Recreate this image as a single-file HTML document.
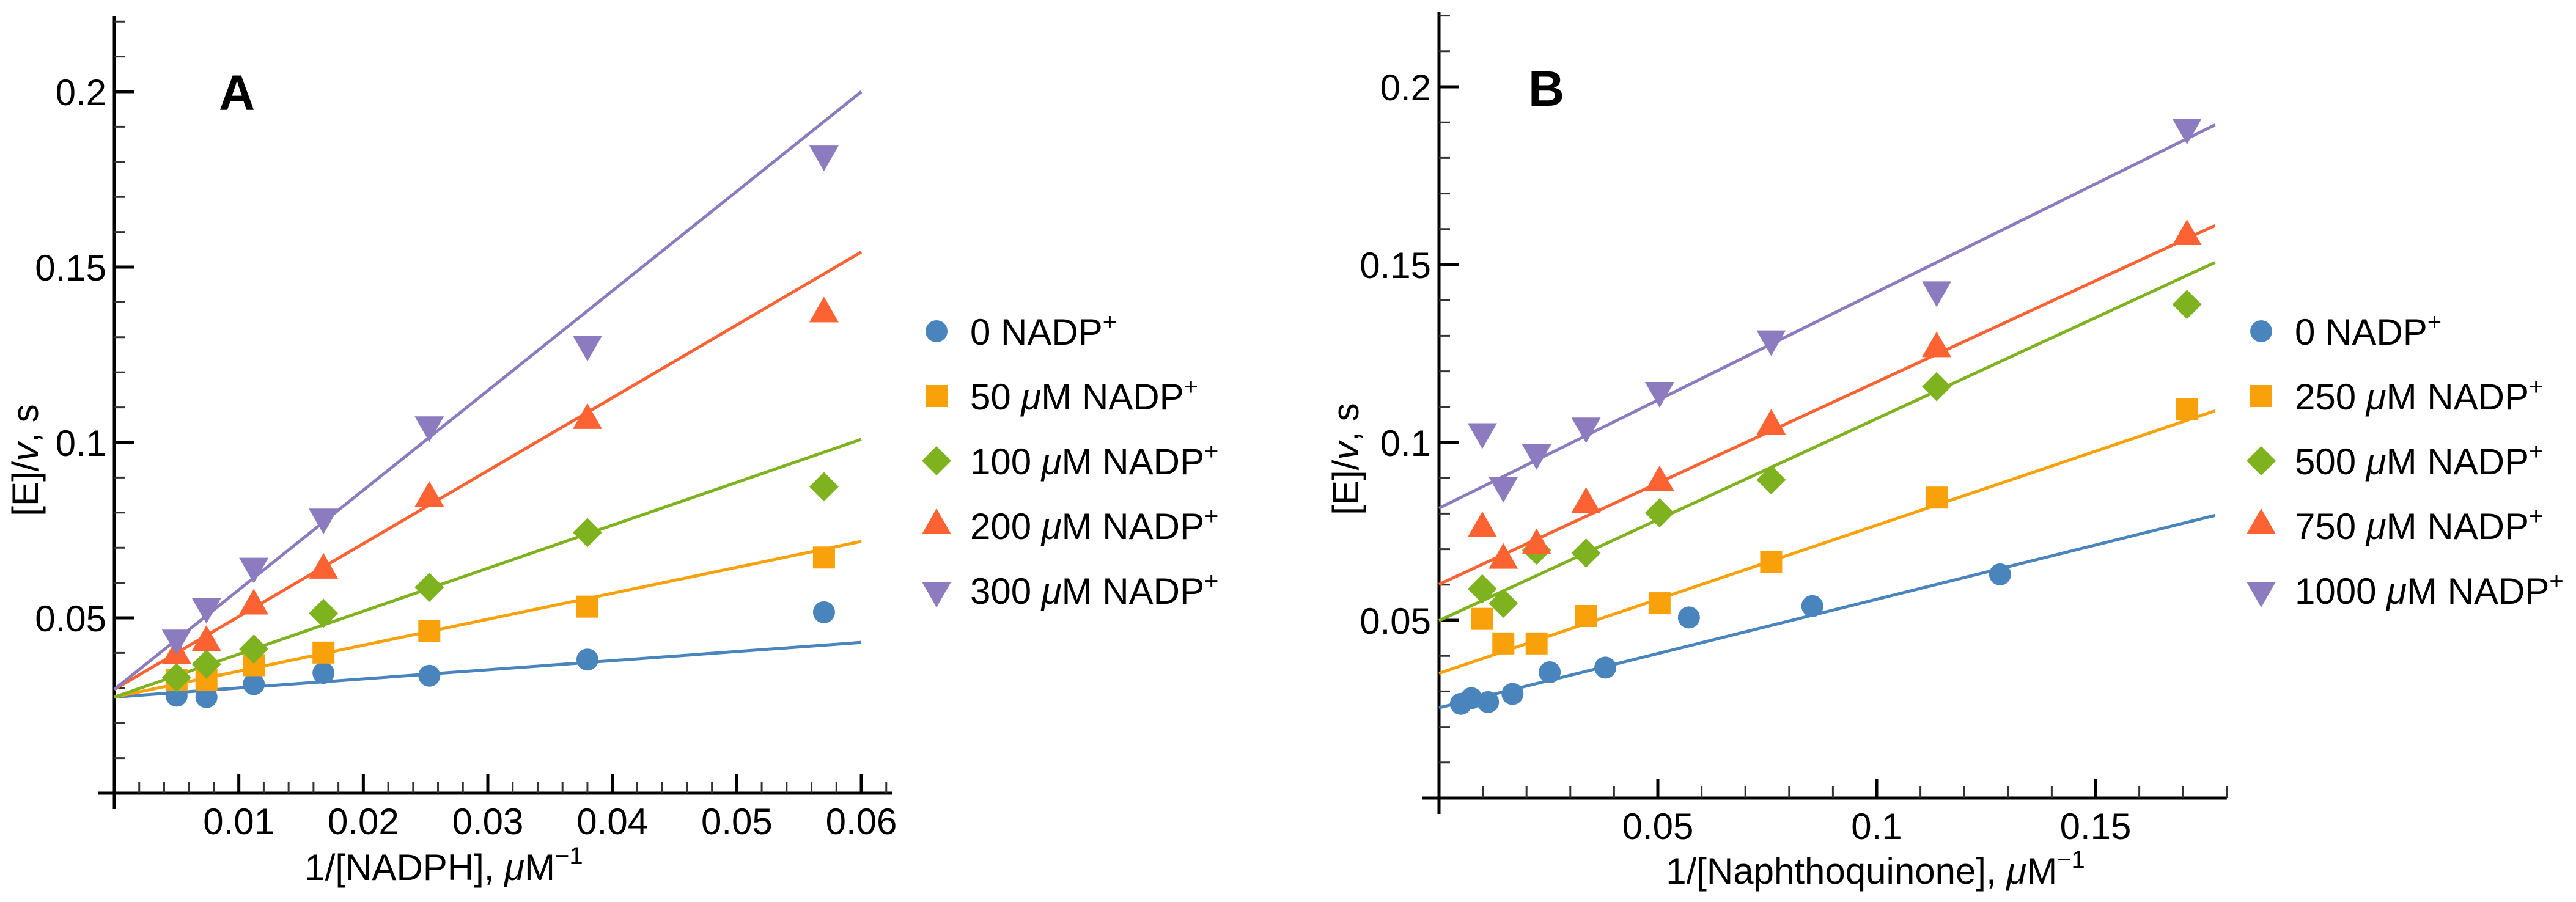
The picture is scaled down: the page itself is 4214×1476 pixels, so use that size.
<!DOCTYPE html>
<html><head><meta charset="utf-8"><style>
html,body{margin:0;padding:0;background:#fff;}
svg{display:block;font-family:"Liberation Sans",Arial,sans-serif;}
</style></head><body>
<svg id="fig" width="4214" height="1476" viewBox="0 0 4214 1476" xmlns="http://www.w3.org/2000/svg">
<g id="panelA"></g>
<g id="panelB"></g>
</svg>
<script>
// ---------- Panel A data ----------
const aX = [0.005, 0.0074, 0.0112, 0.0168, 0.0253, 0.038, 0.057];
const aY0 = [0.0278, 0.0274, 0.0311, 0.0343, 0.0335, 0.0381, 0.0516];
const aY50 = [0.0324, 0.0324, 0.0365, 0.0401, 0.0463, 0.0532, 0.0672];
const aY100 = [0.0330, 0.0368, 0.0411, 0.0513, 0.0587, 0.0743, 0.0874];
const aY200 = [0.0393, 0.0430, 0.0534, 0.0636, 0.0841, 0.1063, 0.1367];
const aY300 = [0.0442, 0.0532, 0.0647, 0.0787, 0.1050, 0.1280, 0.1822];
const aIntercepts = [0.0274, 0.0274, 0.0274, 0.0296, 0.0296];
const aEnds = [0.0430, 0.0718, 0.1009, 0.1543, 0.2000];
const aLabels = ["0 NADP", "50 μM NADP", "100 μM NADP", "200 μM NADP", "300 μM NADP"];
const aXTicks = [0.01, 0.02, 0.03, 0.04, 0.05, 0.06];
const aXTickLabels = ["0.01", "0.02", "0.03", "0.04", "0.05", "0.06"];
const aYTicks = [0.05, 0.1, 0.15, 0.2];
const aYTickLabels = ["0.05", "0.1", "0.15", "0.2"];

// ---------- Panel B data ----------
const bX0 = [0.005, 0.0074, 0.0112, 0.0168, 0.0253, 0.038, 0.0571, 0.0853, 0.1282];
const bXo = [0.0099, 0.0147, 0.0223, 0.0336, 0.0504, 0.0759, 0.1137, 0.1709];
const bY0 = [0.0265, 0.0281, 0.0270, 0.0293, 0.0354, 0.0367, 0.0508, 0.0540, 0.0629];
const bY250 = [0.0504, 0.0435, 0.0435, 0.0512, 0.0548, 0.0664, 0.0845, 0.1093];
const bY500 = [0.0588, 0.0548, 0.0697, 0.0689, 0.0802, 0.0895, 0.1157, 0.1388];
const bY750 = [0.0758, 0.0669, 0.0710, 0.0826, 0.0887, 0.1046, 0.1264, 0.1579];
const bY1000 = [0.1030, 0.0879, 0.0971, 0.1046, 0.1146, 0.1291, 0.1429, 0.1886];
const bIntercepts = [0.0254, 0.0351, 0.0499, 0.0601, 0.0815];
const bEnds = [0.0795, 0.1089, 0.1506, 0.1610, 0.1893];
const bLabels = ["0 NADP", "250 μM NADP", "500 μM NADP", "750 μM NADP", "1000 μM NADP"];
const bXTicks = [0.05, 0.1, 0.15];
const bXTickLabels = ["0.05", "0.1", "0.15"];
const bYTicks = [0.05, 0.1, 0.15, 0.2];
const bYTickLabels = ["0.05", "0.1", "0.15", "0.2"];

const colors = ["#4a84bc", "#f9a10a", "#7fb21f", "#fd6232", "#8c7bbf"];
const shapes = ["circle", "square", "diamond", "up", "down"];
const NS = "http://www.w3.org/2000/svg";

function mk(tag, attrs, parent) {
  const e = document.createElementNS(NS, tag);
  for (const k in attrs) e.setAttribute(k, attrs[k]);
  parent.appendChild(e);
  return e;
}

function marker(g, shape, cx, cy, color) {
  let e;
  if (shape === "circle") e = mk("circle", {cx: cx, cy: cy, r: 18, fill: color}, g);
  else if (shape === "square") e = mk("rect", {x: cx - 18, y: cy - 18, width: 36, height: 36, fill: color}, g);
  else if (shape === "diamond") e = mk("polygon", {points: `${cx},${cy-24} ${cx+24},${cy} ${cx},${cy+24} ${cx-24},${cy}`, fill: color}, g);
  else if (shape === "up") e = mk("polygon", {points: `${cx},${cy-28} ${cx+24},${cy+14} ${cx-24},${cy+14}`, fill: color}, g);
  else e = mk("polygon", {points: `${cx-24},${cy-14} ${cx+24},${cy-14} ${cx},${cy+28}`, fill: color}, g);
  return e;
}

function drawPanel(cfg) {
  const g = document.getElementById(cfg.id);
  const sx = v => cfg.x0 + v * cfg.kx;
  const sy = v => cfg.y0 - v * cfg.ky;
  // axes
  const ax = mk("line", {x1: cfg.x0 - 27, y1: cfg.y0, x2: sx(cfg.xMax), y2: cfg.y0, stroke: "#000", "stroke-width": 5}, g);
  
  
  const ay = mk("line", {x1: cfg.x0, y1: cfg.y0 + 26, x2: cfg.x0, y2: sy(cfg.yMax), stroke: "#000", "stroke-width": 5}, g);
  
  
  // minor ticks
  for (let i = 1; i * cfg.xMinor <= cfg.xMax + 1e-9; i++) {
    const v = i * cfg.xMinor;
    const t = mk("line", {x1: sx(v), y1: cfg.y0, x2: sx(v), y2: cfg.y0 - 19, stroke: "#333", "stroke-width": 3}, g);
    
    
  }
  for (let i = 1; i * 0.01 <= cfg.yMax + 1e-9; i++) {
    const v = i * 0.01;
    const t = mk("line", {x1: cfg.x0, y1: sy(v), x2: cfg.x0 + 18, y2: sy(v), stroke: "#333", "stroke-width": 3}, g);
    
    
  }
  cfg.xTicks.forEach((v, i) => {
    const t = mk("line", {x1: sx(v), y1: cfg.y0, x2: sx(v), y2: cfg.y0 - 32, stroke: "#000", "stroke-width": 5}, g);
    
    
    const l = mk("text", {x: sx(v), y: cfg.y0 + 67, "font-size": 60, "text-anchor": "middle"}, g);
    l.textContent = cfg.xTickLabels[i];
    
    
  });
  cfg.yTicks.forEach((v, i) => {
    const t = mk("line", {x1: cfg.x0, y1: sy(v), x2: cfg.x0 + 32, y2: sy(v), stroke: "#000", "stroke-width": 5}, g);
    
    
    const l = mk("text", {x: cfg.x0 - 13, y: sy(v) + 22, "font-size": 60, "text-anchor": "end"}, g);
    l.textContent = cfg.yTickLabels[i];
    
    
  });
  // fit lines
  cfg.intercepts.forEach((b, i) => {
    const ln = mk("line", {x1: sx(0), y1: sy(b), x2: sx(cfg.lineEnd), y2: sy(cfg.ends[i]), stroke: colors[i], "stroke-width": 5}, g);
    
    
  });
  // points
  cfg.series.forEach((s, i) => {
    const sg = mk("g", {}, g);
    
    
    s.y.forEach((yv, j) => {
      const m = marker(sg, shapes[i], sx(s.x[j]), sy(yv), colors[i]);
      
      
    });
  });
  // legend
  cfg.labels.forEach((lab, i) => {
    const ly = 542 + i * 106;
    const lg = mk("g", {}, g);
    
    
    marker(lg, shapes[i], cfg.legX, ly, colors[i]);
    const t = mk("text", {x: cfg.legX + 55, y: ly + 22, "font-size": 60}, lg);
    const parts = lab.split("μ");
    if (parts.length > 1) {
      t.appendChild(document.createTextNode(parts[0]));
      const mu = mk("tspan", {"font-style": "italic"}, t);
      mu.textContent = "μ";
      t.appendChild(document.createTextNode(parts[1]));
    } else {
      t.appendChild(document.createTextNode(lab));
    }
    const sup = mk("tspan", {"font-size": 40, dy: -24}, t);
    sup.textContent = "+";
  });
  // titles
  const pl = mk("text", {x: cfg.panelX, y: cfg.panelY, "font-size": 82, "font-weight": "bold"}, g);
  pl.textContent = cfg.panel;
  
  
  const xt = mk("text", {x: cfg.xtX, y: cfg.xtY, "font-size": 60, "text-anchor": "middle"}, g);
  
  
  xt.appendChild(document.createTextNode(cfg.xTitle + ", "));
  const mu = mk("tspan", {"font-style": "italic"}, xt); mu.textContent = "μ";
  xt.appendChild(document.createTextNode("M"));
  const sp = mk("tspan", {"font-size": 40, dy: -26}, xt); sp.textContent = "−1";
  const yt = mk("text", {x: 0, y: 0, "font-size": 60, "text-anchor": "middle", transform: `translate(${cfg.ytX},${cfg.ytY}) rotate(-90)`}, g);
  
  
  yt.appendChild(document.createTextNode("[E]/"));
  const vv = mk("tspan", {"font-style": "italic"}, yt); vv.textContent = "v";
  yt.appendChild(document.createTextNode(", s"));
}

drawPanel({
  id: "panelA", x0: 187, y0: 1298, kx: 20367, ky: 5740, xMax: 0.0625, yMax: 0.2215, xMinor: 0.002,
  xTicks: aXTicks, xTickLabels: aXTickLabels, yTicks: aYTicks, yTickLabels: aYTickLabels,
  intercepts: aIntercepts, ends: aEnds, lineEnd: 0.06,
  series: [{x: aX, y: aY0}, {x: aX, y: aY50}, {x: aX, y: aY100}, {x: aX, y: aY200}, {x: aX, y: aY300}],
  labels: aLabels, legX: 1532, panel: "A", panelX: 358, panelY: 180,
  xTitle: "1/[NADPH]", xtX: 726, xtY: 1440, ytX: 62, ytY: 753
});
drawPanel({
  id: "panelB", x0: 2354, y0: 1306, kx: 7160, ky: 5820, xMax: 0.18, yMax: 0.221, xMinor: 0.01,
  xTicks: bXTicks, xTickLabels: bXTickLabels, yTicks: bYTicks, yTickLabels: bYTickLabels,
  intercepts: bIntercepts, ends: bEnds, lineEnd: 0.1773,
  series: [{x: bX0, y: bY0}, {x: bXo, y: bY250}, {x: bXo, y: bY500}, {x: bXo, y: bY750}, {x: bXo, y: bY1000}],
  labels: bLabels, legX: 3699, panel: "B", panelX: 2500, panelY: 173,
  xTitle: "1/[Naphthoquinone]", xtX: 3068, xtY: 1446, ytX: 2222, ytY: 751
});
</script>
</body></html>
